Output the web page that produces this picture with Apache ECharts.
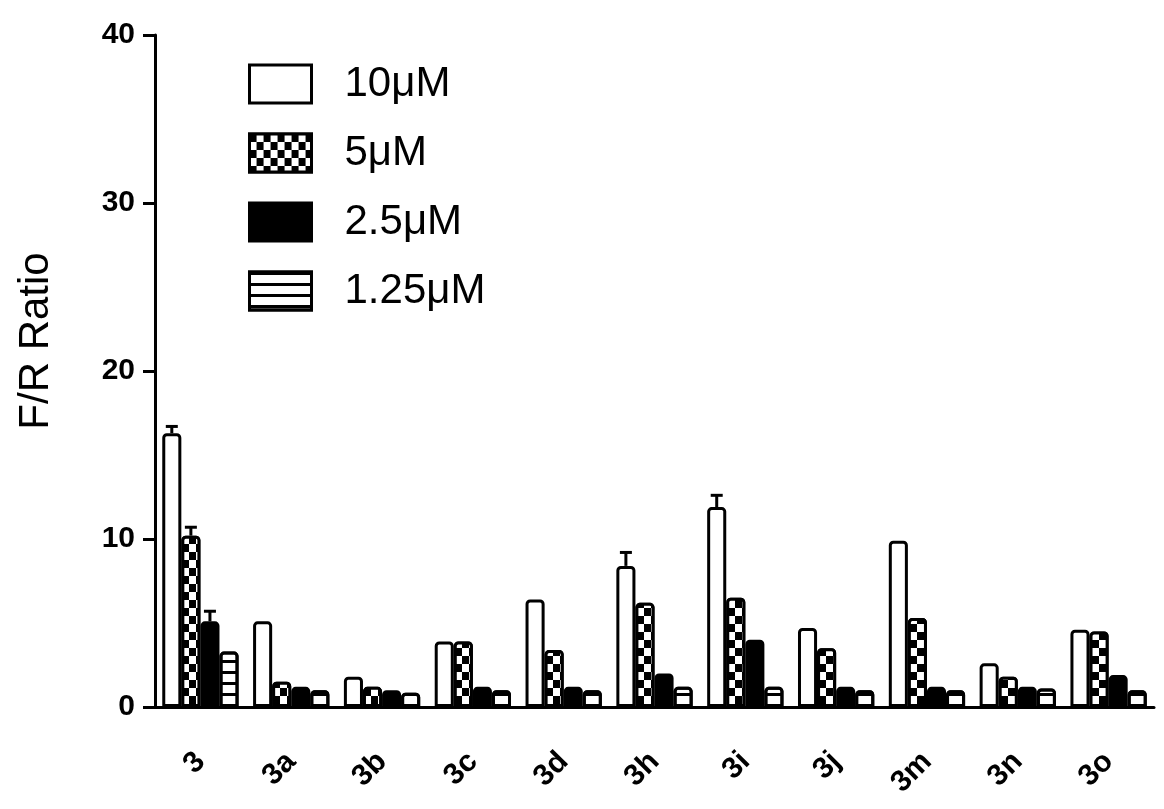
<!DOCTYPE html>
<html>
<head>
<meta charset="utf-8">
<script src="https://cdn.jsdelivr.net/npm/echarts@6/dist/echarts.min.js"></script>
<style>
  html, body { margin: 0; padding: 0; background: #fff; }
  #main { width: 1164px; height: 809px; }
</style>
</head>
<body>
<div id="main"></div>
<script>
var categories = ['3', '3a', '3b', '3c', '3d', '3h', '3i', '3j', '3m', '3n', '3o'];
var seriesNames = ['10μM', '5μM', '2.5μM', '1.25μM'];
var v10 = [16.3, 5.1, 1.8, 3.9, 6.4, 8.4, 11.9, 4.7, 9.9, 2.6, 4.6];
var v5 = [10.2, 1.5, 1.2, 3.9, 3.4, 6.2, 6.5, 3.5, 5.3, 1.8, 4.5];
var v25 = [5.1, 1.2, 1.0, 1.2, 1.2, 2.0, 4.0, 1.2, 1.2, 1.2, 1.9];
var v125 = [3.3, 1.0, 0.85, 1.0, 1.0, 1.2, 1.2, 1.0, 1.0, 1.1, 1.0];
// error bars (only the visible ones)
var e10 = [0.4, 0, 0, 0, 0, 0.8, 0.7, 0, 0, 0, 0];
var e5 = [0.5, 0, 0, 0, 0, 0, 0, 0, 0, 0, 0];
var e25 = [0.6, 0, 0, 0, 0, 0, 0, 0, 0, 0, 0];
var e125 = [0, 0, 0, 0, 0, 0, 0, 0, 0, 0, 0];

var values = [v10, v5, v25, v125];
var errors = [e10, e5, e25, e125];
var catGap = 0.16;

var checker = {
    symbol: 'rect', symbolSize: 1, color: '#fff',
    dashArrayX: [[7, 7], [0, 7, 7, 0]],
    dashArrayY: [8, 0]
};
var stripes = {
    symbol: 'rect', symbolSize: 1, color: '#000',
    dashArrayX: [1, 0],
    dashArrayY: [3, 8]
};
var fills = [
    {color: '#fff'},
    {color: '#000', decal: checker},
    {color: '#000'},
    {color: '#fff', decal: stripes}
];

var errData = [];
values.forEach(function (arr, s) {
    arr.forEach(function (v, i) {
        if (errors[s][i] > 0) errData.push([i, v + errors[s][i], s, v]);
    });
});

var series = seriesNames.map(function (name, s) {
    return {
        name: name,
        type: 'bar',
        data: values[s],
        barGap: '0%',
        barCategoryGap: (catGap * 100) + '%',
        itemStyle: Object.assign({
            borderColor: '#000',
            borderWidth: 3,
            borderRadius: [3, 3, 0, 0]
        }, fills[s])
    };
});

series.push({
    type: 'custom',
    name: 'err',
    data: errData,
    encode: {x: 0, y: 1},
    z: 3,
    renderItem: function (params, api) {
        var band = api.size([1, 0])[0];
        var groupW = band * (1 - catGap);
        var barW = groupW / 4;
        var s = api.value(2);
        var top = api.coord([api.value(0), api.value(1)]);
        var base = api.coord([api.value(0), api.value(3)]);
        var cx = top[0] - groupW / 2 + barW * (s + 0.5);
        var style = {stroke: '#000', lineWidth: 3};
        return {
            type: 'group',
            children: [
                {type: 'line', shape: {x1: cx, y1: base[1], x2: cx, y2: top[1]}, style: style},
                {type: 'line', shape: {x1: cx - 6, y1: top[1], x2: cx + 6, y2: top[1]}, style: style}
            ]
        };
    }
});

var myChart = echarts.init(document.getElementById('main'));
var option = {
    animation: false,
    textStyle: {fontFamily: 'Liberation Sans, Arial, sans-serif'},
    grid: {left: 155, right: 10, top: 35, bottom: 102},
    legend: {
        data: seriesNames,
        orient: 'vertical',
        left: 243,
        top: 58,
        icon: 'rect',
        itemWidth: 62,
        itemHeight: 38,
        itemGap: 27,
        itemStyle: {borderColor: '#000', borderWidth: 3},
        textStyle: {fontSize: 42, color: '#000', padding: [0, 0, 0, 28]}
    },
    xAxis: {
        type: 'category',
        data: categories,
        axisLine: {lineStyle: {color: '#000', width: 3}},
        axisTick: {alignWithLabel: true, length: 12, lineStyle: {color: '#000', width: 3}},
        axisLabel: {rotate: 45, margin: 50, fontSize: 30, fontWeight: 'bold', color: '#000'}
    },
    yAxis: {
        type: 'value',
        min: 0,
        max: 40,
        interval: 10,
        name: 'F/R Ratio',
        nameLocation: 'middle',
        nameGap: 98,
        nameTextStyle: {fontSize: 42, color: '#000', padding: [0, 0, 0, 60]},
        splitLine: {show: false},
        axisLine: {show: true, lineStyle: {color: '#000', width: 3}},
        axisTick: {show: true, length: 12, lineStyle: {color: '#000', width: 3}},
        axisLabel: {fontSize: 30, fontWeight: 'bold', color: '#000', margin: 20}
    },
    series: series
};
myChart.setOption(option);
</script>
</body>
</html>
